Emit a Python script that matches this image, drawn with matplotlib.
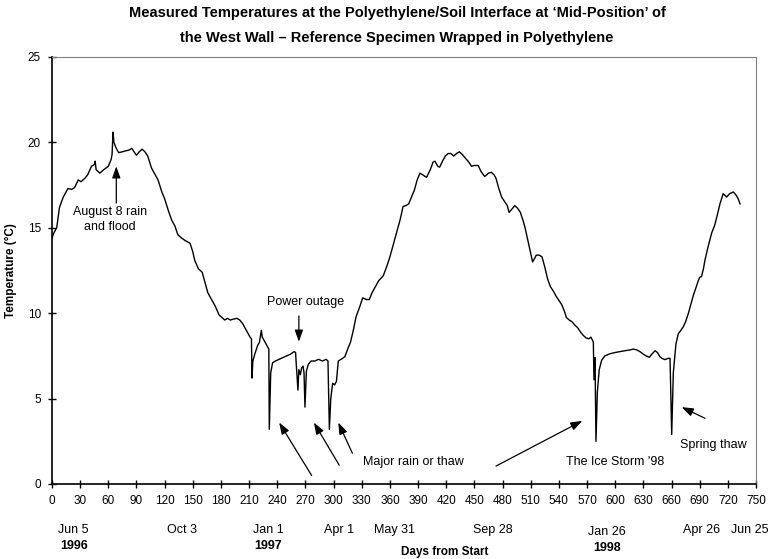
import matplotlib
matplotlib.use('Agg')
import matplotlib.pyplot as plt

plt.rcParams['font.family'] = ['Liberation Sans', 'DejaVu Sans']

# days from start and interface temperature (deg C)
days = [0, 2, 5, 8, 12, 17, 21, 24, 28, 31, 35, 38, 42, 45, 46, 47, 51, 55, 60, 63,
        64, 65, 66, 68, 71, 75, 78, 82, 85, 88, 90, 93, 96, 99, 102, 106, 110, 113, 117, 120,
        124, 127.5, 131, 134, 138, 142, 147, 150, 152, 156, 160, 163, 166, 170, 174, 178, 181, 184, 187, 190,
        193, 197, 200, 203, 207, 211, 212.5, 213, 214, 216, 219, 221, 223, 224, 226, 229, 231, 231.5, 233, 235,
        238, 242, 246, 250, 254, 258, 259.5, 260, 262, 263, 264.5, 266, 267.5, 268.5, 269.5, 271, 273, 276, 280, 284,
        288, 292, 294, 295.5, 297, 299, 301, 303, 305, 308, 312, 315, 318, 321, 324, 328, 331, 335, 338, 341,
        344, 348, 353, 357, 360, 364, 367, 371, 374, 377, 380, 383, 386, 389, 392, 395, 399, 403, 406, 408,
        411, 413, 416, 419, 422, 425, 428, 431, 434, 437, 440, 444, 447, 450, 454, 457, 461, 465, 468, 471,
        473, 476, 479, 482, 485, 487, 490, 493, 496, 499, 502, 504, 506, 508, 510, 512, 514, 516, 519, 522,
        525, 528, 531, 534, 537, 540, 543, 546, 548, 551, 554, 557, 560, 563, 566, 569, 572, 574, 576, 576.7,
        577.4, 578.5, 579.5, 581, 583, 585.6, 589, 594, 600, 605, 610, 615.8, 619.3, 623, 626.4, 630, 633, 636.3, 639, 642.4,
        645, 647.7, 650, 653, 656, 658.4, 660.2, 661.9, 664.7, 667.2, 670, 672.5, 675, 678, 681, 683, 686, 688.5, 690, 692,
        694, 695.6, 699, 702.8, 706, 709, 711.6, 715, 718.7, 722, 725.8, 729, 731, 733]
temps = [14.4, 14.7, 15.0, 16.2, 16.8, 17.3, 17.25, 17.35, 17.8, 17.7, 17.9, 18.1, 18.6, 18.7, 18.9, 18.4, 18.2, 18.4, 18.6, 19.0,
         19.3, 20.6, 20.0, 19.7, 19.4, 19.45, 19.5, 19.55, 19.65, 19.4, 19.25, 19.45, 19.6, 19.45, 19.2, 18.5, 18.1, 17.8, 17.1, 16.7,
         16.0, 15.45, 15.1, 14.6, 14.4, 14.25, 14.1, 13.6, 13.1, 12.6, 12.4, 11.8, 11.2, 10.8, 10.4, 9.9, 9.75, 9.6, 9.7, 9.6,
         9.65, 9.7, 9.6, 9.4, 9.0, 8.6, 8.5, 6.2, 7.2, 7.6, 8.1, 8.3, 9.0, 8.6, 8.4, 8.1, 7.9, 3.2, 6.5, 7.1,
         7.2, 7.3, 7.4, 7.5, 7.6, 7.75, 7.7, 7.2, 5.5, 6.7, 6.4, 6.8, 6.9, 6.5, 4.5, 6.6, 7.0, 7.2, 7.2, 7.3,
         7.2, 7.3, 7.2, 3.2, 5.0, 5.9, 5.8, 6.0, 7.2, 7.3, 7.45, 7.9, 8.3, 9.0, 9.8, 10.4, 10.9, 10.8, 10.8, 11.2,
         11.5, 11.9, 12.2, 12.8, 13.3, 14.1, 14.7, 15.5, 16.25, 16.3, 16.4, 16.8, 17.2, 17.8, 18.2, 18.1, 17.95, 18.4, 18.85, 18.9,
         18.6, 18.55, 18.9, 19.2, 19.35, 19.35, 19.2, 19.35, 19.45, 19.3, 19.1, 18.85, 18.6, 18.65, 18.65, 18.3, 18.0, 18.2, 18.25, 18.1,
         17.9, 17.3, 16.8, 16.55, 16.3, 15.9, 16.1, 16.3, 16.15, 15.9, 15.4, 15.0, 14.5, 14.0, 13.5, 13.0, 13.2, 13.4, 13.4, 13.3,
         12.7, 12.0, 11.55, 11.3, 11.0, 10.75, 10.5, 10.1, 9.75, 9.6, 9.5, 9.3, 9.15, 8.9, 8.7, 8.55, 8.5, 8.6, 8.4, 8.3,
         6.1, 7.4, 2.5, 5.4, 6.7, 7.25, 7.5, 7.62, 7.7, 7.75, 7.8, 7.85, 7.9, 7.85, 7.75, 7.6, 7.5, 7.42, 7.6, 7.8,
         7.7, 7.45, 7.35, 7.28, 7.35, 7.36, 2.9, 6.5, 8.2, 8.8, 9.0, 9.2, 9.5, 10.0, 10.6, 11.0, 11.5, 11.9, 12.1, 12.15,
         12.6, 13.1, 13.9, 14.7, 15.15, 15.8, 16.4, 17.0, 16.8, 17.0, 17.1, 16.9, 16.7, 16.4]

x_ticks = list(range(0, 751, 30))
y_ticks = [0, 5, 10, 15, 20, 25]

# calendar labels under the day axis (text, day position, row)
date_labels = ['Jun 5', 'Oct 3', 'Jan 1', 'Apr 1', 'May 31', 'Sep 28', 'Jan 26', 'Apr 26', 'Jun 25']
date_pos = [22.5, 138, 230, 306, 365, 470, 591, 692, 743]
year_labels = ['1996', '1997', '1998']
year_pos = [23.5, 230, 591]

fig = plt.figure(figsize=(7.78, 5.59), dpi=100)
ax = fig.add_axes([52 / 778, 1 - 484 / 559, 704 / 778, 427 / 559])

ax.plot(days, temps, color='black', linewidth=1.0)

ax.set_xlim(0, 750)
ax.set_ylim(0, 25)
ax.set_xticks(x_ticks)
ax.set_yticks(y_ticks)
ax.tick_params(direction='inout', length=6, width=1, labelsize=8.5, pad=5)

for side in ['left', 'bottom']:
    ax.spines[side].set_linewidth(1.2)
for side in ['top', 'right']:
    ax.spines[side].set_color('#808080')
    ax.spines[side].set_linewidth(0.8)

ax.set_ylabel('Temperature (°C)', fontsize=8.5, fontweight='bold')
ax.yaxis.set_label_coords(-0.05, 0.5)

# title, two centred lines
fig.text(397 / 778, 1 - 13 / 559,
         'Measured Temperatures at the Polyethylene/Soil Interface at \u2018Mid-Position\u2019 of',
         ha='center', va='center', fontsize=10.5, fontweight='bold')
fig.text(397 / 778, 1 - 38 / 559,
         'the West Wall \u2013 Reference Specimen Wrapped in Polyethylene',
         ha='center', va='center', fontsize=10.5, fontweight='bold')

# date rows below the axis
trans = ax.get_xaxis_transform()
for lab, d in zip(date_labels, date_pos):
    yy = -0.112 if lab == 'Jan 26' else -0.108
    ax.text(d, yy, lab, transform=trans, ha='center', va='center', fontsize=9)
for lab, d in zip(year_labels, year_pos):
    yy = -0.150 if lab == '1998' else -0.145
    ax.text(d, yy, lab, transform=trans, ha='center', va='center', fontsize=9, fontweight='bold')
ax.text(445 / 778, 1 - 552 / 559, 'Days from Start', transform=fig.transFigure,
        ha='center', va='center', fontsize=8.5, fontweight='bold')

arrow = dict(arrowstyle='-|>,head_length=0.7,head_width=0.25', color='black', lw=0.9,
             shrinkA=0, shrinkB=0)

ax.text(61.8, 15.5, 'August 8 rain\nand flood', ha='center', va='center', fontsize=9, linespacing=1.3)
ax.annotate('', xy=(68.5, 18.6), xytext=(68.5, 16.45), arrowprops=arrow)

ax.text(270.6, 10.67, 'Power outage', ha='center', va='center', fontsize=9)
ax.annotate('', xy=(263, 8.33), xytext=(263, 9.84), arrowprops=arrow)

ax.text(331.5, 1.3, 'Major rain or thaw', ha='left', va='center', fontsize=9)
ax.annotate('', xy=(242, 3.6), xytext=(276.6, 0.5), arrowprops=arrow)
ax.annotate('', xy=(279, 3.6), xytext=(306, 1.1), arrowprops=arrow)
ax.annotate('', xy=(305, 3.6), xytext=(320, 1.8), arrowprops=arrow)

ax.text(600.3, 1.3, "The Ice Storm '98", ha='center', va='center', fontsize=9)
ax.annotate('', xy=(565, 3.7), xytext=(473, 1.05), arrowprops=arrow)

ax.text(669, 2.28, 'Spring thaw', ha='left', va='center', fontsize=9)
ax.annotate('', xy=(670.8, 4.5), xytext=(695.6, 3.85), arrowprops=arrow)

fig.savefig('out.png', dpi=100)
